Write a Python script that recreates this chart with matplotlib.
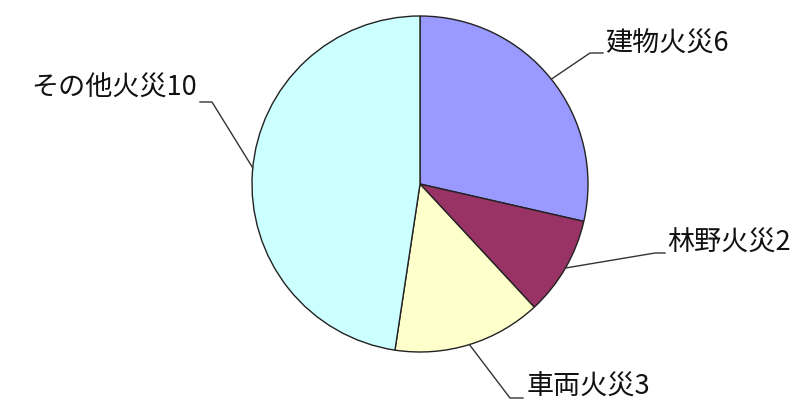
import numpy as np
import matplotlib.pyplot as plt

plt.rcParams['font.family'] = ['Noto Sans CJK JP', 'DejaVu Sans']

labels = ["建物火災", "林野火災", "車両火災", "その他火災"]
counts = [6, 2, 3, 10]
colors = ["#9999FF", "#993366", "#FFFFCC", "#CCFFFF"]

W, H = 808, 401
cx, cy, r = 420, 184, 168  # pie centre / radius in pixels (y down)

# leader line layout in pixels: anchor angle on rim, elbow, end of tick, text position
leader_angle = [38.6, -30.0, -72.9, 174.5]
elbows = [(590, 53), (655, 253), (510, 398), (212, 102)]
tick_ends = [(603, 53), (665, 253), (523, 398), (200, 102)]
text_pos = [(605, 44), (667, 243), (527, 387), (197, 88)]
text_ha = ["left", "left", "left", "right"]

fig = plt.figure(figsize=(W / 100, H / 100), dpi=100)
ax = fig.add_axes([0, 0, 1, 1])


def fy(y):
    return H - y


ax.pie(counts, colors=colors, startangle=90, counterclock=False,
       center=(cx, fy(cy)), radius=r,
       wedgeprops=dict(edgecolor="#222222", linewidth=1.0), frame=True)
ax.set_xlim(0, W)
ax.set_ylim(0, H)
ax.set_aspect("equal")
ax.axis("off")

for i, (lab, n) in enumerate(zip(labels, counts)):
    a = np.deg2rad(leader_angle[i])
    x0 = cx + r * np.cos(a)
    y0 = cy - r * np.sin(a)
    ex, ey = elbows[i]
    tx, ty = tick_ends[i]
    ax.plot([x0, ex, tx], [fy(y0), fy(ey), fy(ty)], color="#333333", lw=1.0)
    px, py = text_pos[i]
    ax.text(px, fy(py), f"{lab}{n}", ha=text_ha[i], va="center",
            fontsize=19.5, color="#111111")

fig.savefig("out.png", dpi=100)
